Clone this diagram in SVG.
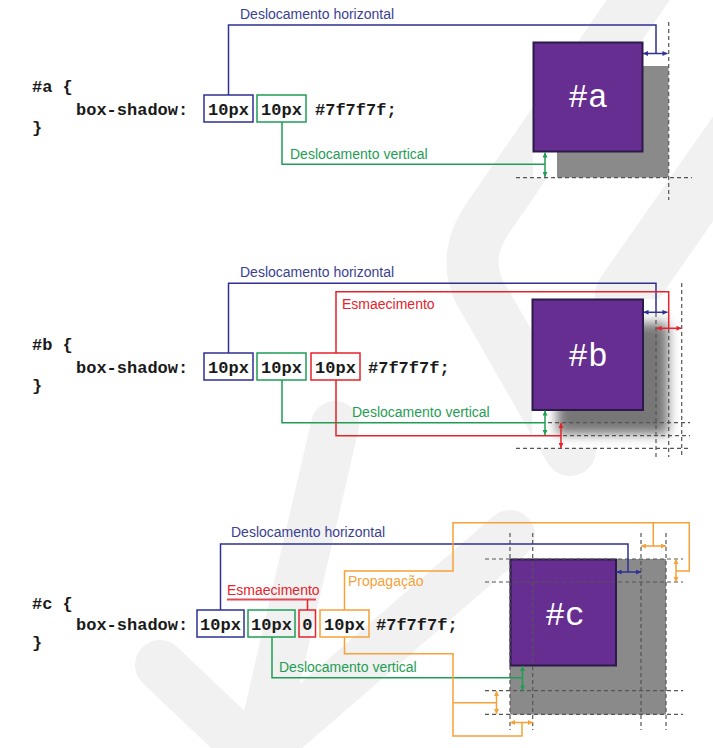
<svg xmlns="http://www.w3.org/2000/svg" width="713" height="748" viewBox="0 0 713 748">
<style>
.wm{fill:none;stroke:#f1f1f1;stroke-linecap:round;stroke-linejoin:round}
.code{font-family:"Liberation Mono","Courier New",monospace;font-weight:bold;font-size:17px;fill:#1a1a1a}
.mid{text-anchor:middle}
.lbl{font-family:"Liberation Sans",Arial,sans-serif;font-size:14px}
.big{font-family:"Liberation Mono","Courier New",monospace;font-size:33px;fill:#ffffff;text-anchor:middle}
.box{fill:#652e90;stroke:#2c1a4a;stroke-width:2}
.shadow{fill:#8a8a8a}
.dash{fill:none;stroke:#555555;stroke-width:1.2;stroke-dasharray:4 3}
.ln{fill:none;stroke-width:1.5}
.b{stroke:#2e3092}.g{stroke:#1f9d55}.r{stroke:#e5232b}.o{stroke:#f6a13a}
.tb{fill:#3b3f91}.tg{fill:#1f9d55}.tr{fill:#e5232b}.to{fill:#f6a13a}
.ab{marker-start:url(#mb);marker-end:url(#mb)}
.ag{marker-start:url(#mg);marker-end:url(#mg)}
.ar{marker-start:url(#mr);marker-end:url(#mr)}
.ao{marker-start:url(#mo);marker-end:url(#mo)}
</style>
<defs>
<marker id="mb" viewBox="0 0 6 6" refX="6" refY="3" markerWidth="6" markerHeight="5" markerUnits="userSpaceOnUse" orient="auto-start-reverse"><path d="M0,0 L6,3 L0,6 z" fill="#2e3092"/></marker>
<marker id="mg" viewBox="0 0 6 6" refX="6" refY="3" markerWidth="6" markerHeight="5" markerUnits="userSpaceOnUse" orient="auto-start-reverse"><path d="M0,0 L6,3 L0,6 z" fill="#1f9d55"/></marker>
<marker id="mr" viewBox="0 0 6 6" refX="6" refY="3" markerWidth="6" markerHeight="5" markerUnits="userSpaceOnUse" orient="auto-start-reverse"><path d="M0,0 L6,3 L0,6 z" fill="#e5232b"/></marker>
<marker id="mo" viewBox="0 0 6 6" refX="6" refY="3" markerWidth="6" markerHeight="5" markerUnits="userSpaceOnUse" orient="auto-start-reverse"><path d="M0,0 L6,3 L0,6 z" fill="#f6a13a"/></marker>
<filter id="blur" x="-30%" y="-30%" width="160%" height="160%"><feGaussianBlur stdDeviation="6"/></filter>
</defs>
<rect width="713" height="748" fill="#ffffff"/>

<g id="watermark">
<path class="wm" stroke-width="52" d="M652,-20 L488,218 Q458,262 486,303 L570,450"/>
<path class="wm" stroke-width="60" d="M775,80 L625,295"/>
<path class="wm" stroke-width="48" d="M335,425 L255,770"/>
<path class="wm" stroke-width="50" d="M510,535 L250,760"/>
<path class="wm" stroke-width="50" d="M160,665 L260,760"/>
</g>

<!-- Figure A -->
<g id="code-a">
<text class="code" x="32" y="92">#a {</text>
<text class="code" x="76" y="115">box-shadow:</text>
<rect x="204" y="95" width="49" height="27" fill="none" stroke="#2e3092" stroke-width="1.5"/>
<text class="code mid" x="228.5" y="115">10px</text>
<rect x="257" y="95" width="49" height="27" fill="none" stroke="#1f9d55" stroke-width="1.5"/>
<text class="code mid" x="281.5" y="115">10px</text>
<text class="code" x="315" y="115">#7f7f7f;</text>
<text class="code" x="32" y="133">}</text>
</g>
<g id="box-a">
<rect x="533" y="42" width="136" height="136" fill="#ffffff"/>
<rect class="shadow" x="557" y="66" width="111.5" height="111.5"/>
<rect class="box" x="533.5" y="42.5" width="109" height="109"/>
<text class="big" x="588" y="107">#a</text>
</g>

<!-- Figure B -->
<g id="code-b">
<text class="code" x="32" y="350">#b {</text>
<text class="code" x="76" y="373">box-shadow:</text>
<rect x="204" y="353" width="49" height="27" fill="none" stroke="#2e3092" stroke-width="1.5"/>
<text class="code mid" x="228.5" y="373">10px</text>
<rect x="257" y="353" width="49" height="27" fill="none" stroke="#1f9d55" stroke-width="1.5"/>
<text class="code mid" x="281.5" y="373">10px</text>
<rect x="311" y="353" width="49" height="27" fill="none" stroke="#e5232b" stroke-width="1.5"/>
<text class="code mid" x="335.5" y="373">10px</text>
<text class="code" x="368" y="373">#7f7f7f;</text>
<text class="code" x="32" y="391">}</text>
</g>
<g id="box-b">
<rect x="532" y="299" width="150" height="149" fill="#ffffff"/>
<rect x="557" y="323" width="111" height="111" fill="#777777" filter="url(#blur)"/>
<rect class="box" x="532.5" y="299.5" width="110.5" height="110.5" stroke-width="1.5"/>
<text class="big" x="588" y="366">#b</text>
</g>

<!-- Figure C -->
<g id="code-c">
<text class="code" x="32" y="609">#c {</text>
<text class="code" x="76" y="630">box-shadow:</text>
<rect x="197" y="610" width="47" height="27" fill="none" stroke="#2e3092" stroke-width="1.5"/>
<text class="code mid" x="220.5" y="630">10px</text>
<rect x="248" y="610" width="47" height="27" fill="none" stroke="#1f9d55" stroke-width="1.5"/>
<text class="code mid" x="271.5" y="630">10px</text>
<rect x="299" y="610" width="16.5" height="27" fill="none" stroke="#e5232b" stroke-width="1.5"/>
<text class="code mid" x="307.3" y="630">0</text>
<rect x="320" y="610" width="49" height="27" fill="none" stroke="#f6a13a" stroke-width="1.5"/>
<text class="code mid" x="344.5" y="630">10px</text>
<text class="code" x="376" y="630">#7f7f7f;</text>
<text class="code" x="32" y="648">}</text>
</g>
<g id="box-c">
<rect class="shadow" x="510" y="559" width="156" height="155.5"/>
<rect class="box" x="510.5" y="559.5" width="105.5" height="106" stroke-width="1.5"/>
<text class="big" x="565" y="625">#c</text>
</g>

<!-- guides -->
<g id="guides">
<path class="dash" d="M668.7,22 V200 M516,177.7 H692"/>
<path class="dash" d="M656,313 V457 M668.7,329 V457 M681.7,283 V457 M548,422.7 H690 M563,435.7 H690 M516,448.3 H690"/>
<path class="dash" d="M510,533 V730 M532.7,533 V730 M641,533 V730 M666,533 V730 M485,559 H683 M485,582 H683 M485,690.7 H683 M485,714.3 H683"/>
</g>

<g id="labels">
<text class="lbl tb" x="240" y="18.5">Deslocamento horizontal</text>
<text class="lbl tg" x="290" y="159">Deslocamento vertical</text>
<text class="lbl tb" x="240" y="277">Deslocamento horizontal</text>
<text class="lbl tr" x="342" y="308.5">Esmaecimento</text>
<text class="lbl tg" x="352" y="417">Deslocamento vertical</text>
<text class="lbl tb" x="231" y="537">Deslocamento horizontal</text>
<text class="lbl to" x="348" y="586">Propagação</text>
<text class="lbl tr" x="227" y="595">Esmaecimento</text>
<text class="lbl tg" x="279" y="672">Deslocamento vertical</text>
</g>

<g id="connectors">
<!-- A -->
<polyline class="ln b" points="228.5,95 228.5,25 656,25 656,53.5"/>
<line class="ln b ab" x1="643" y1="53.5" x2="667.5" y2="53.5"/>
<polyline class="ln g" points="282,122 282,164.3 545,164.3"/>
<line class="ln g ag" x1="545" y1="152.5" x2="545" y2="177"/>
<!-- B -->
<polyline class="ln b" points="228.5,353 228.5,283.3 656,283.3 656,312.3"/>
<line class="ln b ab" x1="643.5" y1="312.3" x2="667.5" y2="312.3"/>
<polyline class="ln r" points="336,353 336,291.7 668.7,291.7 668.7,328.3"/>
<line class="ln r ar" x1="656.5" y1="328.3" x2="681.5" y2="328.3"/>
<polyline class="ln g" points="282,380 282,422.7 545,422.7"/>
<line class="ln g ag" x1="545" y1="410.5" x2="545" y2="435"/>
<polyline class="ln r" points="336,380 336,435.7 561,435.7"/>
<line class="ln r ar" x1="561" y1="423" x2="561" y2="448"/>
<!-- C -->
<polyline class="ln b" points="220.5,610 220.5,544 628,544 628,572"/>
<line class="ln b ab" x1="616.5" y1="572" x2="641" y2="572"/>
<polyline class="ln g" points="272,637 272,677.7 522.5,677.7"/>
<line class="ln g ag" x1="522.5" y1="666" x2="522.5" y2="690.5"/>
<line x1="227" y1="599.5" x2="316" y2="599.5" stroke="#e24a55" stroke-width="2"/>
<line class="ln r" x1="307.5" y1="599.5" x2="307.5" y2="610"/>
<polyline class="ln o" points="344.5,610 344.5,571 453,571 453,522.7 689.3,522.7 689.3,571 676,571"/>
<line class="ln o" x1="653.3" y1="522.7" x2="653.3" y2="546"/>
<line class="ln o ao" x1="641" y1="546" x2="666" y2="546"/>
<line class="ln o ao" x1="676" y1="559" x2="676" y2="582"/>
<polyline class="ln o" points="344.5,637 344.5,653.7 453,653.7 453,736 522,736 522,722.5"/>
<line class="ln o" x1="453" y1="702.7" x2="496.5" y2="702.7"/>
<line class="ln o ao" x1="496.5" y1="691" x2="496.5" y2="714"/>
<line class="ln o ao" x1="510" y1="722.5" x2="533" y2="722.5"/>
</g>
</svg>
